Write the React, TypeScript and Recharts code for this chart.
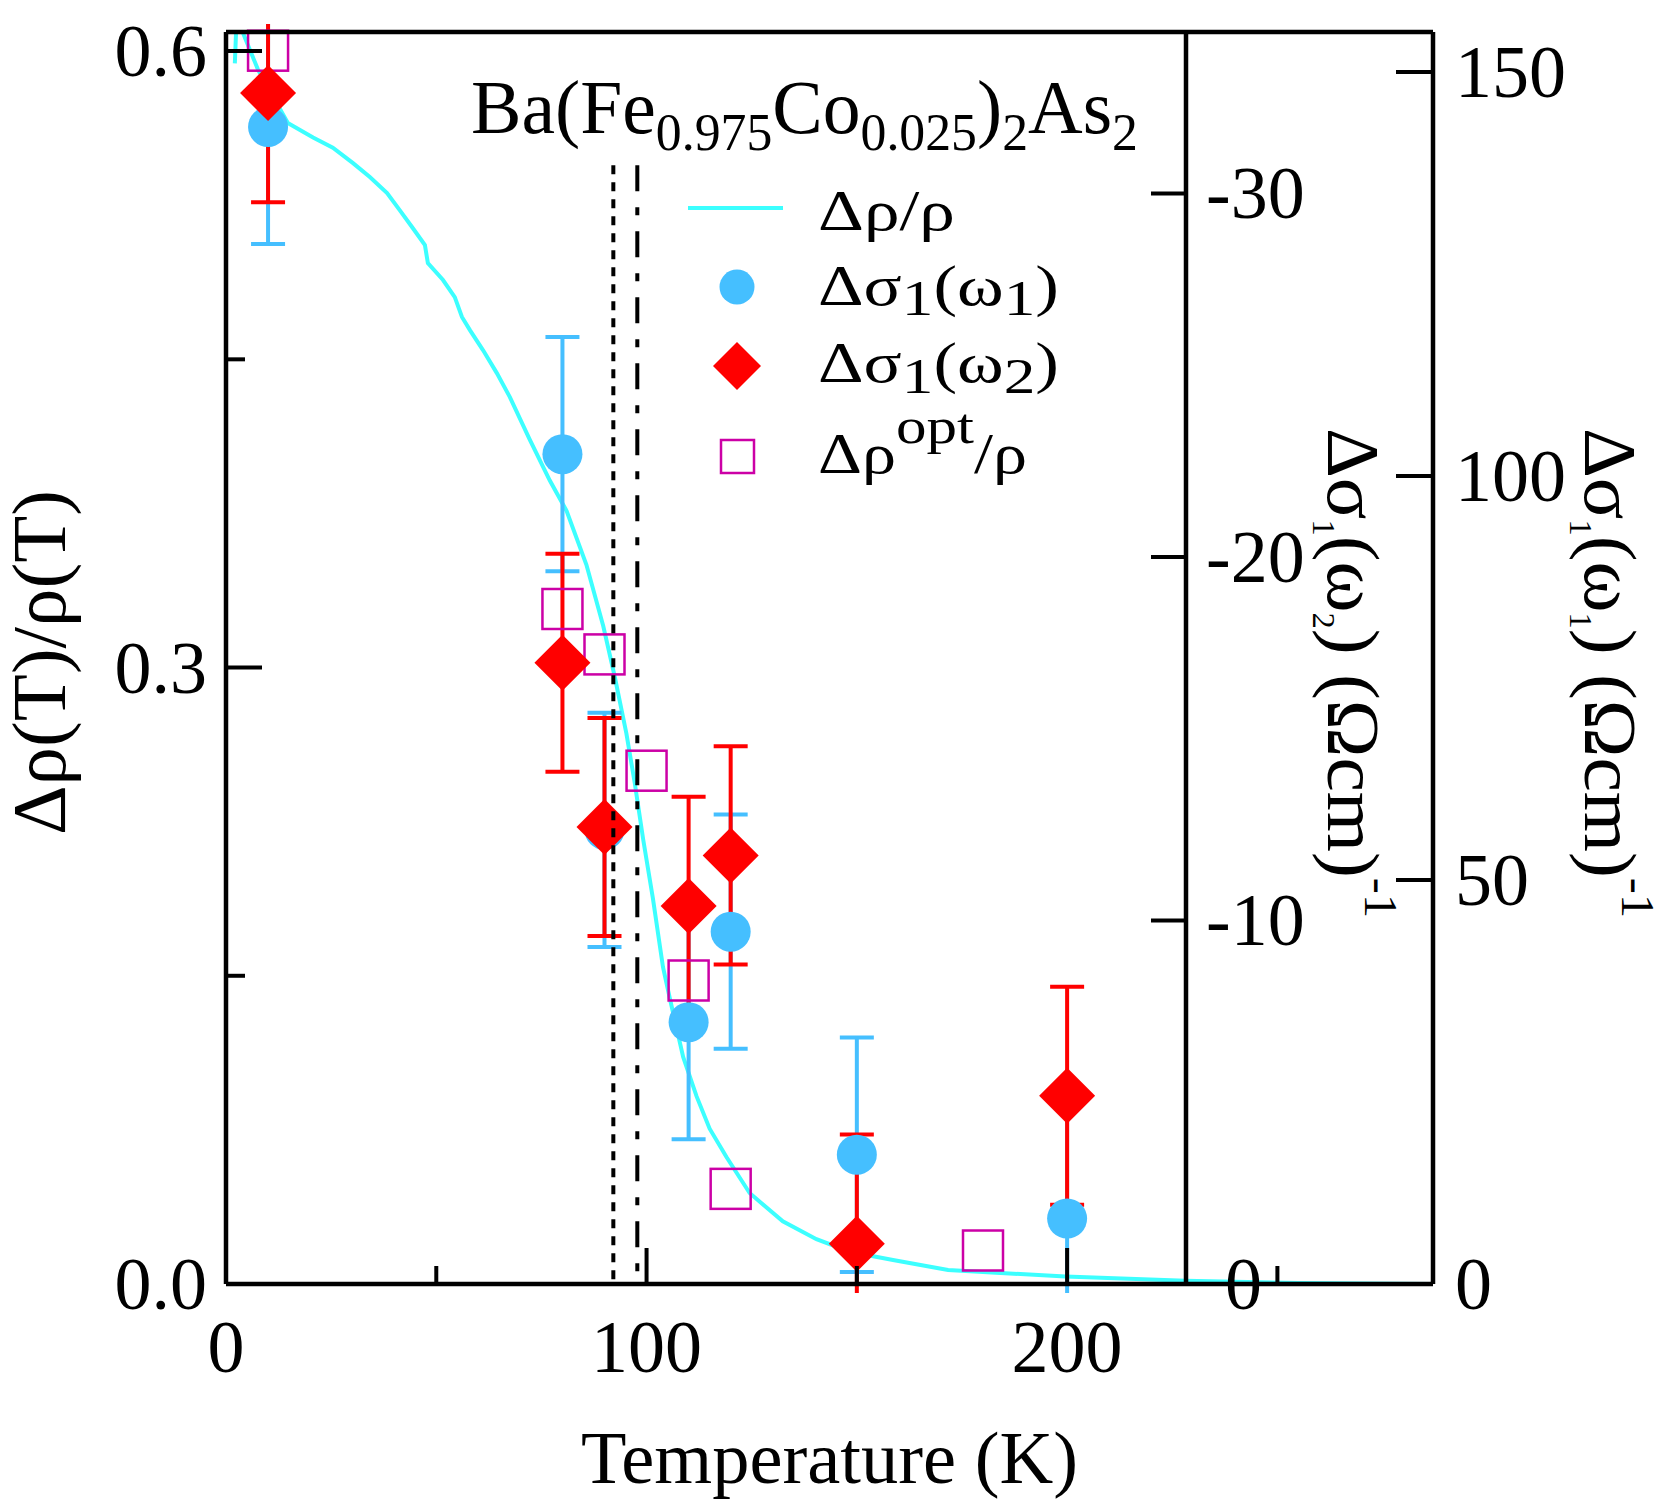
import React from 'react';
import { ComposedChart, Line, Scatter, XAxis, YAxis, ErrorBar, ReferenceLine } from 'recharts';

const FONT = '"Liberation Serif", "Times New Roman", serif';

// ---- Data ----
// Δρ/ρ transport curve
const rhoT = [2.1, 2.6, 3.5, 4.0, 7.6, 14.7, 20.7, 25.4, 30.2, 34.2, 38.3, 41.3, 44.4, 47.3, 48.0, 51.6, 54.4, 56.1, 58.0, 61.1, 64.4, 67.5, 72.2, 77.0, 79.0, 81.0, 85.7, 89.7, 92.4, 95.2, 97.2, 99.2, 101.5, 103.9, 105.5, 108.7, 111.9, 115.0, 119.0, 124.5, 132.4, 140.4, 148.3, 158.6, 171.7, 199.6, 228.1, 255.0, 287.0];
const rhoV = [0.594, 0.62, 0.63, 0.609, 0.591, 0.565, 0.558, 0.553, 0.5455, 0.5387, 0.5309, 0.5226, 0.5139, 0.5056, 0.4968, 0.4886, 0.4803, 0.4706, 0.4642, 0.4545, 0.4433, 0.4316, 0.411, 0.391, 0.3836, 0.3762, 0.35, 0.3202, 0.2959, 0.268, 0.2437, 0.2163, 0.1878, 0.1543, 0.1393, 0.1105, 0.0913, 0.0756, 0.0618, 0.0443, 0.0305, 0.0218, 0.0157, 0.0117, 0.0068, 0.0036, 0.0016, 0.0005, 0.0];

// Δσ1(ω1) (outer right axis)
const w1T = [10, 80, 90, 110, 120, 150, 200];
const w1V = [143.2, 102.7, 56.2, 32.4, 43.6, 16.0, 8.1];
const w1Err = [14.5, 14.5, 14.5, 14.5, 14.5, 14.5, 14.5];

// Δσ1(ω2) (inner right axis)
const w2T = [10, 80, 90, 110, 120, 150, 200];
const w2V = [-32.76, -17.09, -12.57, -10.4, -11.79, -1.11, -5.18];
const w2Err = [3.0, 3.0, 3.0, 3.0, 3.0, 3.0, 3.0];

// Δρopt/ρ (left axis)
const optT = [10, 80, 90, 100, 110, 120, 180];
const optV = [0.6002, 0.3285, 0.3064, 0.2498, 0.1477, 0.0463, 0.0163];

// Vertical marker temperatures
const tDotted = 92.1;
const tDashDot = 97.8;
const markerTop = 0.5445;

// Axis ticks
const xTicks = [0, 50, 100, 150, 200, 250];
const xLabeled = [0, 100, 200];
const leftTicks = [0, 0.15, 0.3, 0.45, 0.6];
const leftLabeled = [0, 0.3, 0.6];
const w1Ticks = [0, 50, 100, 150];
const w2Ticks = [-30, -20, -10, 0];

const xDomain: [number, number] = [0, 287];
const leftDomain: [number, number] = [0, 0.6093];
const w1Domain: [number, number] = [0, 154.95];
const w2Domain: [number, number] = [-34.44, 0];

const rhoData = rhoT.map((T, i) => ({ T, v: rhoV[i] }));
const w1Data = w1T.map((T, i) => ({ T, v: w1V[i], err: w1Err[i] }));
const w2Data = w2T.map((T, i) => ({ T, v: w2V[i], err: w2Err[i] }));
const optData = optT.map((T, i) => ({ T, v: optV[i] }));

const W = 1660;
const H = 1500;

const BLUE = '#45BFFF';
const RED = '#FF0000';
const MAG = '#CC00A6';
const CYAN = '#3CFFFF';
const AXW = 4.5;

const txt = { fontFamily: FONT, fill: '#000' } as const;

function BottomTick(props: any) {
  const { x, y, payload } = props;
  const v = payload.value;
  const major = xLabeled.includes(v);
  return (
    <g>
      <line x1={x} x2={x} y1={y} y2={y - (major ? 36 : 18)} stroke="#000" strokeWidth={4} />
      {major && (
        <text x={x} y={y + 88} textAnchor="middle" fontSize={74} {...txt}>
          {v}
        </text>
      )}
    </g>
  );
}

function TopTick(props: any) {
  const { x, y, payload } = props;
  const major = xLabeled.includes(payload.value);
  return <line x1={x} x2={x} y1={y} y2={y + (major ? 37 : 18)} stroke="#000" strokeWidth={4} />;
}

function LeftTick(props: any) {
  const { x, y, payload } = props;
  const v = payload.value;
  const major = leftLabeled.includes(v);
  return (
    <g>
      <line x1={x} x2={x + (major ? 36 : 19)} y1={y} y2={y} stroke="#000" strokeWidth={4} />
      {major && (
        <text x={x - 19} y={y + 25} textAnchor="end" fontSize={74} {...txt}>
          {v.toFixed(1)}
        </text>
      )}
    </g>
  );
}

function OuterTick(props: any) {
  const { x, y, payload } = props;
  return (
    <g>
      <line x1={x} x2={x - 37} y1={y} y2={y} stroke="#000" strokeWidth={4} />
      <text x={x + 22} y={y + 25} textAnchor="start" fontSize={74} {...txt}>
        {payload.value}
      </text>
    </g>
  );
}

function InnerTick(props: any) {
  const { x, y, payload } = props;
  const v = payload.value;
  return (
    <g>
      <line x1={x} x2={x - 35} y1={y} y2={y} stroke="#000" strokeWidth={4} />
      <text x={x + (v === 0 ? 39 : 20)} y={y + 25} textAnchor="start" fontSize={74} {...txt}>
        {v}
      </text>
    </g>
  );
}

const Circle = (p: any) => <circle cx={p.cx} cy={p.cy} r={20} fill={BLUE} />;
const Diamond = (p: any) => (
  <polygon
    points={`${p.cx},${p.cy - 28} ${p.cx + 28},${p.cy} ${p.cx},${p.cy + 28} ${p.cx - 28},${p.cy}`}
    fill={RED}
  />
);
const Square = (p: any) => (
  <rect x={p.cx - 20} y={p.cy - 20} width={40} height={40} fill="none" stroke={MAG} strokeWidth={2.5} />
);
const Empty = () => <g />;

const css = `
.main-chart .recharts-scatter, .main-chart .recharts-errorBars { clip-path: url(#ebclip) !important; }
`;

export default function App() {
  return (
    <div style={{ position: 'absolute', left: 0, top: 0, width: W, height: H, overflow: 'hidden', background: '#fff' }}>
      <style>{css}</style>
      <div className="main-chart" style={{ position: 'absolute', left: 0, top: 0 }}>
        <ComposedChart width={W} height={H} margin={{ top: 2, right: 0, bottom: 0, left: 0 }}>
          <Line
            data={rhoData}
            dataKey="v"
            yAxisId="left"
            type="linear"
            stroke={CYAN}
            strokeWidth={4}
            dot={false}
            activeDot={false}
            isAnimationActive={false}
          />
          <Scatter data={optData} dataKey="v" yAxisId="left" shape={Square} isAnimationActive={false} />
          <Scatter data={w1Data} dataKey="v" yAxisId="w1" shape={Circle} isAnimationActive={false}>
            <ErrorBar dataKey="err" direction="y" width={17} stroke={BLUE} strokeWidth={4} isAnimationActive={false} />
          </Scatter>
          <Scatter data={w2Data} dataKey="v" yAxisId="w2" shape={Diamond} isAnimationActive={false}>
            <ErrorBar dataKey="err" direction="y" width={17} stroke={RED} strokeWidth={4} isAnimationActive={false} />
          </Scatter>
          <ReferenceLine
            yAxisId="left"
            segment={[{ x: tDotted, y: markerTop }, { x: tDotted, y: 0 }]}
            stroke="#000"
            strokeWidth={4}
            strokeDasharray="9 8"
            zIndex={800}
          />
          <ReferenceLine
            yAxisId="left"
            segment={[{ x: tDashDot, y: markerTop }, { x: tDashDot, y: 0 }]}
            stroke="#000"
            strokeWidth={4}
            strokeDasharray="26 16 8 16"
            zIndex={800}
          />
          <XAxis
            dataKey="T"
            type="number"
            domain={xDomain}
            ticks={xTicks}
            interval={0}
            allowDataOverflow
            height={216}
            tickSize={0}
            tickMargin={0}
            tickLine={false}
            axisLine={{ stroke: '#000', strokeWidth: AXW }}
            tick={(p: any) => <BottomTick {...p} />}
            zIndex={700}
          />
          <XAxis
            xAxisId="top"
            orientation="top"
            type="number"
            domain={xDomain}
            ticks={xTicks}
            interval={0}
            allowDataOverflow
            height={30}
            tickSize={0}
            tickMargin={0}
            tickLine={false}
            axisLine={{ stroke: '#000', strokeWidth: AXW }}
            tick={(p: any) => <TopTick {...p} />}
            zIndex={700}
          />
          <YAxis
            yAxisId="left"
            orientation="left"
            type="number"
            width={226}
            domain={leftDomain}
            ticks={leftTicks}
            interval={0}
            allowDataOverflow
            tickSize={0}
            tickMargin={0}
            tickLine={false}
            axisLine={{ stroke: '#000', strokeWidth: AXW }}
            tick={(p: any) => <LeftTick {...p} />}
            zIndex={700}
          />
          <YAxis
            yAxisId="w1"
            orientation="right"
            type="number"
            width={227}
            domain={w1Domain}
            ticks={w1Ticks}
            interval={0}
            allowDataOverflow
            tickSize={0}
            tickMargin={0}
            tickLine={false}
            axisLine={{ stroke: '#000', strokeWidth: AXW }}
            tick={(p: any) => <OuterTick {...p} />}
            zIndex={700}
          />
          <YAxis yAxisId="w2" hide type="number" domain={w2Domain} reversed allowDataOverflow />
        </ComposedChart>
      </div>

      <div style={{ position: 'absolute', left: 0, top: 0 }}>
        <ComposedChart width={W} height={H} margin={{ top: 32, right: 0, bottom: 216, left: 226 }}>
          <Scatter data={w2Data} dataKey="v" yAxisId="w2" shape={Empty} isAnimationActive={false} />
          <XAxis dataKey="T" type="number" domain={xDomain} hide allowDataOverflow />
          <YAxis
            yAxisId="w2"
            orientation="right"
            type="number"
            width={474}
            domain={w2Domain}
            reversed
            ticks={w2Ticks}
            interval={0}
            allowDataOverflow
            tickSize={0}
            tickMargin={0}
            tickLine={false}
            axisLine={{ stroke: '#000', strokeWidth: AXW }}
            tick={(p: any) => <InnerTick {...p} />}
          />
        </ComposedChart>
      </div>

      <svg
        width={W}
        height={H}
        style={{ position: 'absolute', left: 0, top: 0, pointerEvents: 'none' }}
      >
        <defs>
          <clipPath id="ebclip" clipPathUnits="userSpaceOnUse">
            <rect x={0} y={24} width={W} height={1269} />
          </clipPath>
        </defs>

        {/* Title */}
        <text x={471} y={133} fontSize={76} textLength={667} lengthAdjust="spacingAndGlyphs" {...txt}>
          Ba(Fe
          <tspan fontSize={52} dy={17}>0.975</tspan>
          <tspan dy={-17}>Co</tspan>
          <tspan fontSize={52} dy={17}>0.025</tspan>
          <tspan dy={-17}>)</tspan>
          <tspan fontSize={52} dy={17}>2</tspan>
          <tspan dy={-17}>As</tspan>
          <tspan fontSize={52} dy={17}>2</tspan>
        </text>

        {/* Legend */}
        <line x1={688} x2={783} y1={208} y2={208} stroke={CYAN} strokeWidth={4} />
        <text x={818} y={230} fontSize={56} textLength={137} lengthAdjust="spacingAndGlyphs" {...txt}>
          Δρ/ρ
        </text>
        <circle cx={737} cy={287} r={17.5} fill={BLUE} />
        <text x={818} y={305} fontSize={56} textLength={241} lengthAdjust="spacingAndGlyphs" {...txt}>
          Δσ<tspan fontSize={50} dy={10}>1</tspan>
          <tspan dy={-10}>(ω</tspan>
          <tspan fontSize={50} dy={10}>1</tspan>
          <tspan dy={-10}>)</tspan>
        </text>
        <polygon points="737,342 761,366 737,390 713,366" fill={RED} />
        <text x={818} y={382} fontSize={56} textLength={241} lengthAdjust="spacingAndGlyphs" {...txt}>
          Δσ<tspan fontSize={50} dy={11}>1</tspan>
          <tspan dy={-11}>(ω</tspan>
          <tspan fontSize={50} dy={11}>2</tspan>
          <tspan dy={-11}>)</tspan>
        </text>
        <rect x={721} y={440} width={33} height={33} fill="none" stroke={MAG} strokeWidth={2.5} />
        <text x={818} y={473} fontSize={56} textLength={209} lengthAdjust="spacingAndGlyphs" {...txt}>
          Δρ<tspan fontSize={50} dy={-30}>opt</tspan>
          <tspan dy={30}>/ρ</tspan>
        </text>

        {/* Axis titles */}
        <text x={581} y={1483} fontSize={74} textLength={497} lengthAdjust="spacingAndGlyphs" {...txt}>
          Temperature (K)
        </text>
        <text
          x={65}
          y={835}
          transform="rotate(-90 65 835)"
          fontSize={76}
          textLength={345}
          lengthAdjust="spacingAndGlyphs"
          {...txt}
        >
          Δρ(T)/ρ(T)
        </text>
        <text
          x={1328}
          y={428}
          transform="rotate(90 1328 428)"
          fontSize={74}
          textLength={490}
          lengthAdjust="spacingAndGlyphs"
          {...txt}
        >
          Δσ<tspan fontSize={31} dy={15}>1</tspan>
          <tspan dy={-15}>(ω</tspan>
          <tspan fontSize={31} dy={15}>2</tspan>
          <tspan dy={-15}>) (Ωcm)</tspan>
          <tspan fontSize={46} dy={-37}>-1</tspan>
        </text>
        <text
          x={1585}
          y={428}
          transform="rotate(90 1585 428)"
          fontSize={74}
          textLength={490}
          lengthAdjust="spacingAndGlyphs"
          {...txt}
        >
          Δσ<tspan fontSize={31} dy={15}>1</tspan>
          <tspan dy={-15}>(ω</tspan>
          <tspan fontSize={31} dy={15}>1</tspan>
          <tspan dy={-15}>) (Ωcm)</tspan>
          <tspan fontSize={46} dy={-37}>-1</tspan>
        </text>
      </svg>
    </div>
  );
}
